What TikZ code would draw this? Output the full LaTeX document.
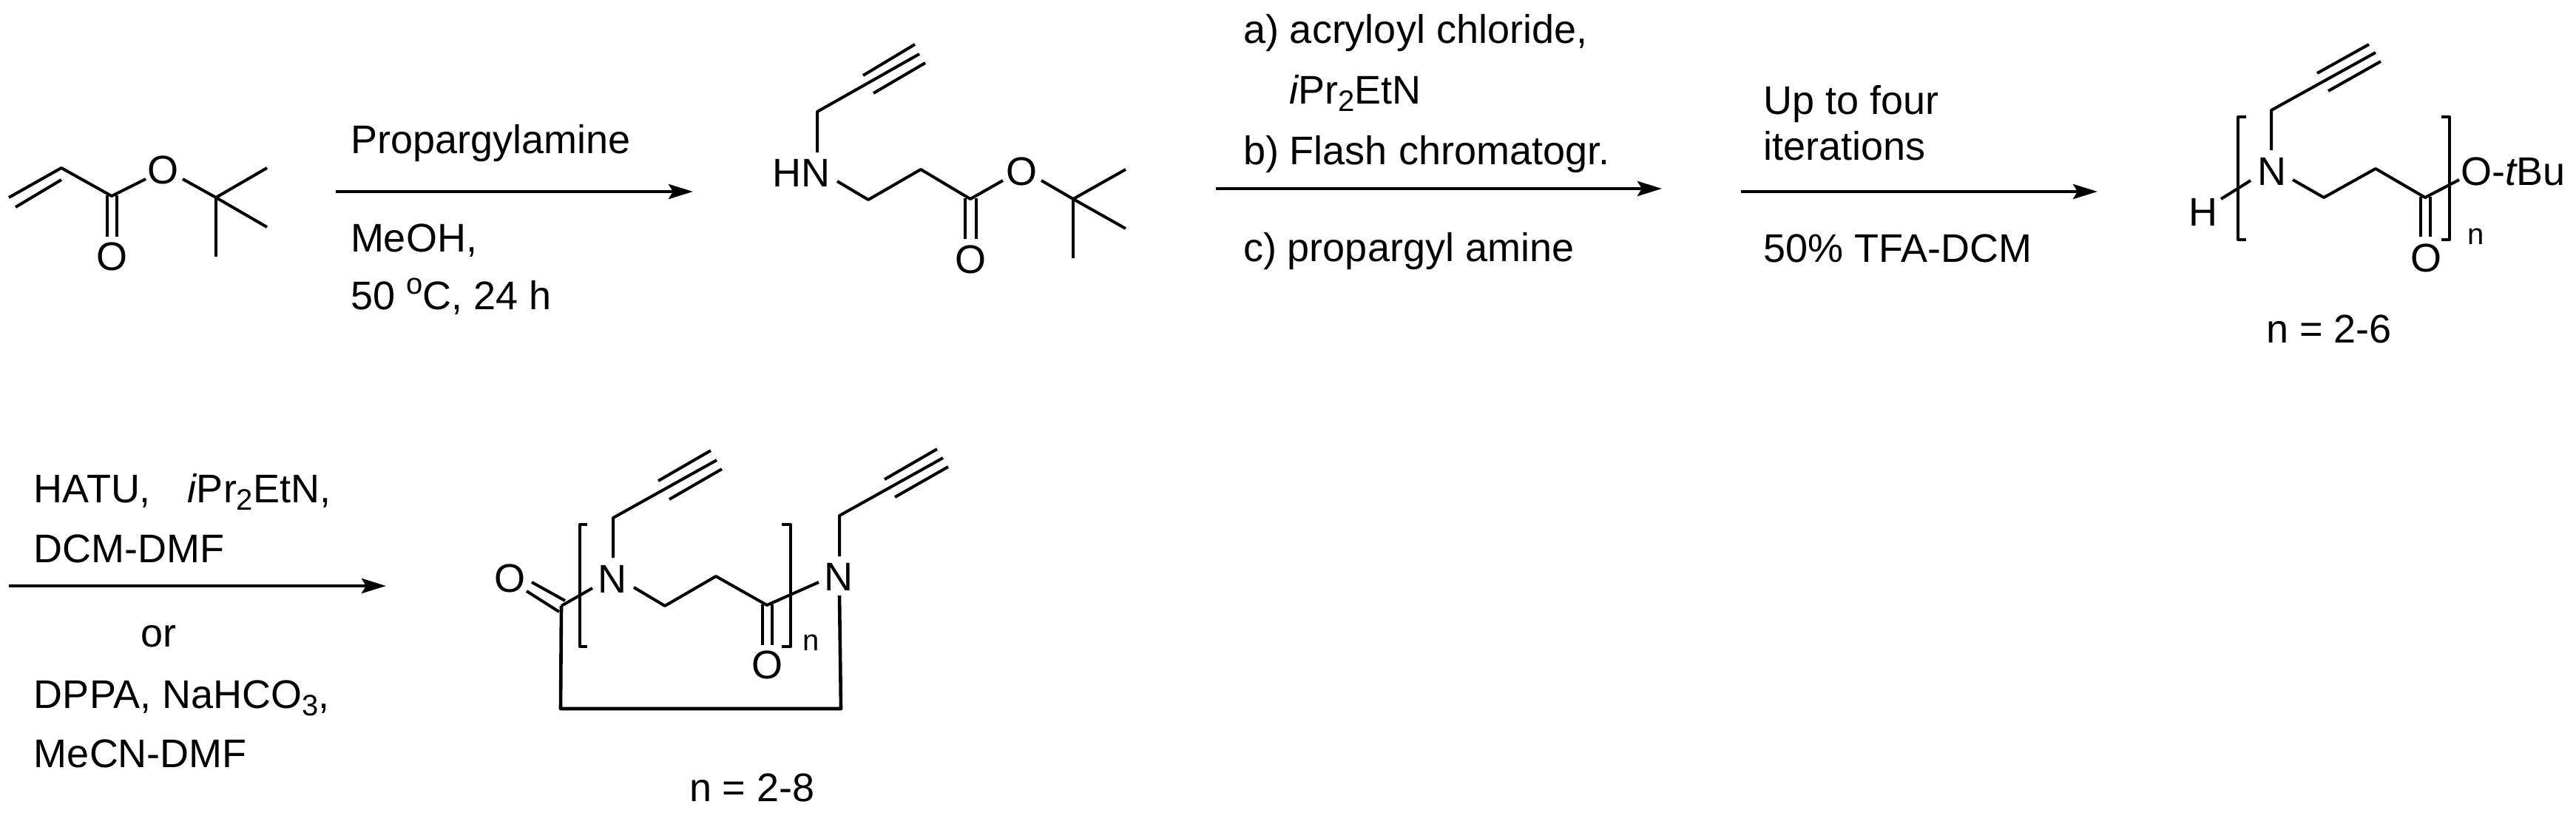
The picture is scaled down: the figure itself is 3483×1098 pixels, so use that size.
\documentclass[tikz,border=0pt]{standalone}
\usepackage{fontspec}
\setmainfont{Liberation Sans}
\usetikzlibrary{arrows.meta}
\newcommand\cc[3]{\coordinate (#1) at (#2,#3);}
\newcommand\smallfs{\fontsize{20}{24}\selectfont}
\newcommand\subsc[1]{\raisebox{-5pt}{\smallfs #1}}
\tikzset{
  x=0.5pt, y=-0.5pt,
  bond/.style={draw=black, line width=2pt, line join=round, line cap=butt},
  ringbond/.style={bond, line width=2.3pt},
  rxn/.style={draw=black, line width=2.3pt, -{Stealth[length=16.5pt,width=10pt,inset=3pt]}},
  txt/.style={inner sep=0pt, outer sep=0pt, anchor=base west, xshift=-1.5pt, font=\fontsize{27}{32}\selectfont, text=black},
  atom/.style={inner sep=0pt, outer sep=0pt, anchor=center, font=\fontsize{27}{32}\selectfont, text=black},
  idx/.style={txt, font=\smallfs},
}
\begin{document}
\begin{tikzpicture}
\useasboundingbox (0,0) rectangle (3483,1098);
% --- reaction arrows
\cc{a1s}{454}{259}\cc{a1e}{937}{259}
\cc{a2s}{1644}{255}\cc{a2e}{2247}{255}
\cc{a3s}{2354}{259}\cc{a3e}{2836}{259}
\cc{a4s}{12}{792}\cc{a4e}{522}{792}
\draw[rxn] (a1s) -- (a1e);
\draw[rxn] (a2s) -- (a2e);
\draw[rxn] (a3s) -- (a3e);
\draw[rxn] (a4s) -- (a4e);
% --- reagent texts
\node[txt] (t1) at (477,207) {Propargylamine};
\node[txt] (t2) at (477,340) {MeOH,};
\node[txt] (t3) at (477,418) {50 \raisebox{10.5pt}{\smallfs o}C, 24 h};
\node[txt] (t4) at (1684,58) {a) acryloyl chloride,};
\node[txt] (t5) at (1746,140) {\itshape i\upshape Pr\subsc{2}EtN};
\node[txt] (t6) at (1684,222) {b) Flash chromatogr.};
\node[txt] (t7) at (1684,353) {c) propargyl amine};
\node[txt] (t8) at (2387,154) {Up to four};
\node[txt] (t9) at (2387,216) {iterations};
\node[txt] (t10) at (2387,354) {50\% TFA-DCM};
\node[txt] (t11) at (49,679) {HATU,\hspace*{25pt}\itshape i\upshape Pr\subsc{2}EtN,};
\node[txt] (t12) at (49,760) {DCM-DMF};
\node[txt] (t13) at (193,874) {or};
\node[txt] (t14) at (49,957) {DPPA, NaHCO\subsc{3},};
\node[txt] (t15) at (49,1037) {MeCN-DMF};
% --- structure 1: tert-butyl acrylate
\cc{Aa}{12}{267}\cc{Ab}{83}{227}\cc{Ac}{21}{280}\cc{Ad}{83}{243}
\cc{Ae}{151}{265}\cc{Af}{197}{242}\cc{Ag}{247}{242}\cc{Ah}{292}{267}
\cc{Ai}{361}{227}\cc{Aj}{361}{307}\cc{Ak}{292}{347}
\cc{Al}{145}{264}\cc{Am}{145}{320}\cc{An}{158}{264}\cc{Ao}{158}{320}
\node[atom] (lblAO1) at (220,230) {O};
\node[atom] (lblAO2) at (152,347) {O};
\draw[bond] (Aa) -- (Ab) -- (Ae) -- (Af);
\draw[bond] (Ac) -- (Ad);
\draw[bond] (Al) -- (Am);
\draw[bond] (An) -- (Ao);
\draw[bond] (Ag) -- (Ah) -- (Ai);
\draw[bond] (Ah) -- (Aj);
\draw[bond] (Ah) -- (Ak);
% --- structure 2
\cc{Ba}{1167}{102}\cc{Bb}{1237}{60}
\cc{Bc}{1105}{206}\cc{Bd}{1105}{151}\cc{Be}{1243}{73}
\cc{Bf}{1181}{126}\cc{Bg}{1251}{85}
\cc{Bh}{1132}{245}\cc{Bi}{1174}{270}\cc{Bj}{1245}{229}\cc{Bk}{1312}{269}\cc{Bl}{1356}{244}
\cc{Bm}{1408}{244}\cc{Bn}{1451}{269}\cc{Bo}{1522}{229}\cc{Bp}{1522}{309}\cc{Bq}{1451}{349}
\cc{Br}{1305}{268}\cc{Bs}{1305}{323}\cc{Bt}{1320}{268}\cc{Bu}{1320}{323}
\node[txt] (lblBN) at (1047,252) {HN};
\node[atom] (lblBO1) at (1381,232) {O};
\node[atom] (lblBO2) at (1312,351) {O};
\draw[bond] (Ba) -- (Bb);
\draw[bond] (Bc) -- (Bd) -- (Be);
\draw[bond] (Bf) -- (Bg);
\draw[bond] (Bh) -- (Bi) -- (Bj) -- (Bk) -- (Bl);
\draw[bond] (Bm) -- (Bn) -- (Bo);
\draw[bond] (Bn) -- (Bp);
\draw[bond] (Bn) -- (Bq);
\draw[bond] (Br) -- (Bs);
\draw[bond] (Bt) -- (Bu);
% --- structure 3
\cc{Ca}{3133}{99}\cc{Cb}{3203}{60}
\cc{Cc}{3071}{203}\cc{Cd}{3071}{149}\cc{Ce}{3212}{71}
\cc{Cf}{3148}{123}\cc{Cg}{3219}{83}
\cc{Ch}{3043}{244}\cc{Ci}{3003}{269}
\cc{Cj}{3100}{243}\cc{Ck}{3142}{267}\cc{Cl}{3212}{228}\cc{Cm}{3279}{267}\cc{Cn}{3325}{243}
\cc{Co}{3273}{266}\cc{Cp}{3273}{320}\cc{Cq}{3286}{266}\cc{Cr}{3286}{320}
\cc{Cs}{3037}{158}\cc{Ct}{3026}{158}\cc{Cu}{3026}{324}\cc{Cv}{3037}{324}
\cc{Cw}{3301}{158}\cc{Cx}{3312}{158}\cc{Cy}{3312}{324}\cc{Cz}{3301}{324}
\node[atom, anchor=base] (lblCN) at (3072,250) {N};
\node[txt] (lblCH) at (2962,305) {H};
\node[atom] (lblCO) at (3280,349) {O};
\node[txt] (lblCOt) at (3330,250) {O-\itshape t\upshape Bu};
\node[idx] (lblCidx) at (3339,330) {n};
\node[txt] (lblCrange) at (3067,463) {n = 2-6};
\draw[bond] (Ca) -- (Cb);
\draw[bond] (Cc) -- (Cd) -- (Ce);
\draw[bond] (Cf) -- (Cg);
\draw[bond] (Ch) -- (Ci);
\draw[bond] (Cj) -- (Ck) -- (Cl) -- (Cm) -- (Cn);
\draw[bond] (Co) -- (Cp);
\draw[bond] (Cq) -- (Cr);
\draw[bond] (Cs) -- (Ct) -- (Cu) -- (Cv);
\draw[bond] (Cw) -- (Cx) -- (Cy) -- (Cz);
% --- structure 4
\cc{Da}{890}{650}\cc{Db}{961}{609}
\cc{Dc}{829}{754}\cc{Dd}{829}{700}\cc{De}{969}{622}
\cc{Df}{905}{675}\cc{Dg}{976}{634}
\cc{Dh}{801}{795}\cc{Di}{759}{819}\cc{Dj}{758}{958}\cc{Dk}{1137}{958}\cc{Dl}{1135}{805}
\cc{Dm}{712}{799}\cc{Dn}{756}{827}\cc{Do}{719}{787}\cc{Dp}{764}{812}
\cc{Dq}{857}{794}\cc{Dr}{899}{819}\cc{Ds}{968}{779}\cc{Dt}{1037}{818}\cc{Du}{1107}{787}
\cc{Dv}{1031}{817}\cc{Dw}{1031}{872}\cc{Dx}{1044}{817}\cc{Dy}{1044}{872}
\cc{Ea}{1135}{752}\cc{Eb}{1135}{697}\cc{Ec}{1275}{619}
\cc{Ed}{1196}{648}\cc{Ee}{1267}{607}\cc{Ef}{1210}{672}\cc{Eg}{1282}{631}
\cc{Fa}{794}{709}\cc{Fb}{784}{709}\cc{Fc}{784}{874}\cc{Fd}{794}{874}
\cc{Fe}{1057}{709}\cc{Ff}{1069}{709}\cc{Fg}{1069}{874}\cc{Fh}{1057}{874}
\node[atom, anchor=base] (lblDN1) at (828,801) {N};
\node[atom, anchor=base] (lblDN2) at (1134,798) {N};
\node[atom] (lblDO1) at (689,782) {O};
\node[atom] (lblDO2) at (1037,899) {O};
\node[idx] (lblDidx) at (1088,879) {n};
\node[txt] (lblDrange) at (935,1083) {n = 2-8};
\draw[bond] (Da) -- (Db);
\draw[bond] (Dc) -- (Dd) -- (De);
\draw[bond] (Df) -- (Dg);
\draw[bond] (Dh) -- (Di);
\draw[ringbond] (Di) -- (Dj) -- (Dk) -- (Dl);
\draw[bond] (Dm) -- (Dn);
\draw[bond] (Do) -- (Dp);
\draw[bond] (Dq) -- (Dr) -- (Ds) -- (Dt) -- (Du);
\draw[bond] (Dv) -- (Dw);
\draw[bond] (Dx) -- (Dy);
\draw[bond] (Ea) -- (Eb) -- (Ec);
\draw[bond] (Ed) -- (Ee);
\draw[bond] (Ef) -- (Eg);
\draw[bond] (Fa) -- (Fb) -- (Fc) -- (Fd);
\draw[bond] (Fe) -- (Ff) -- (Fg) -- (Fh);
\end{tikzpicture}
\end{document}
